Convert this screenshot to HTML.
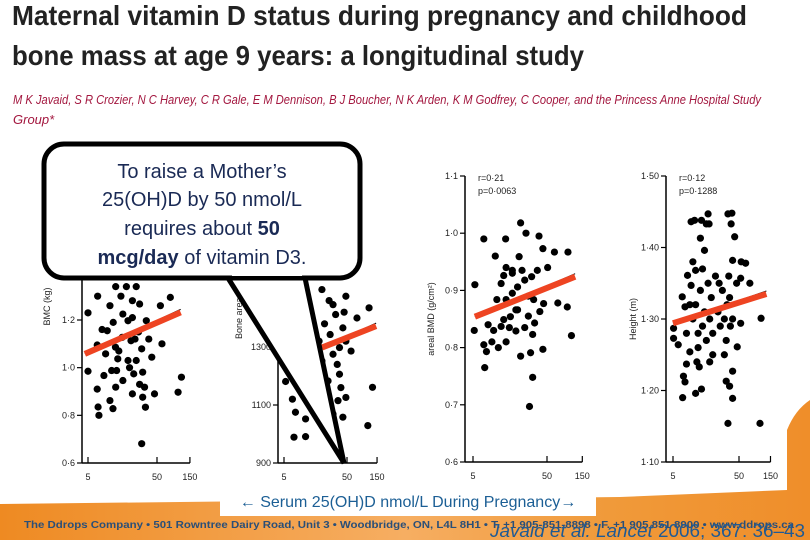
<!DOCTYPE html>
<html><head><meta charset="utf-8"><style>
html,body{margin:0;padding:0;background:#fff;width:810px;height:540px;overflow:hidden}
svg{display:block}
.t{font-family:"Liberation Sans Narrow","Liberation Sans",sans-serif}
.tick{font-family:"Liberation Sans",sans-serif;font-size:9px;fill:#222}
</style></head><body>
<svg id="s" width="810" height="540" viewBox="0 0 810 540" xmlns="http://www.w3.org/2000/svg">
<defs>
<linearGradient id="og" x1="0" x2="1" y1="0" y2="0">
<stop offset="0" stop-color="#ee8a22"/><stop offset="0.5" stop-color="#f6ae62"/><stop offset="0.75" stop-color="#f09a3a"/><stop offset="1" stop-color="#ef8e2a"/>
</linearGradient>
</defs>
<text class="t" x="12" y="25" font-size="28" font-weight="bold" fill="#222" textLength="735" lengthAdjust="spacingAndGlyphs">Maternal vitamin D status during pregnancy and childhood</text>
<text class="t" x="12" y="65" font-size="28" font-weight="bold" fill="#222" textLength="572" lengthAdjust="spacingAndGlyphs">bone mass at age 9 years: a longitudinal study</text>
<text class="t" x="13" y="104" font-size="13" font-style="italic" fill="#a3173f" textLength="748" lengthAdjust="spacingAndGlyphs">M K Javaid, S R Crozier, N C Harvey, C R Gale, E M Dennison, B J Boucher, N K Arden, K M Godfrey, C Cooper, and the Princess Anne Hospital Study</text>
<text class="t" x="13" y="124" font-size="13" font-style="italic" fill="#a3173f">Group*</text>
<g id="charts"></g>
<path d="M0 504 L620 497 L787 490 L787 430 Q795 410 810 400 L810 540 L0 540 Z" fill="url(#og)"/>
<rect x="220" y="486" width="376" height="30" fill="#fff"/>
<text x="408" y="507" text-anchor="middle" font-family="Liberation Sans,sans-serif" font-size="16" fill="#1c5f95">← Serum 25(OH)D nmol/L  During Pregnancy→</text>
<text x="24" y="528" font-family="Liberation Sans,sans-serif" font-size="10" font-weight="bold" fill="#2a4f78" textLength="770" lengthAdjust="spacingAndGlyphs">The Ddrops Company • 501 Rowntree Dairy Road, Unit 3 • Woodbridge, ON, L4L 8H1 • T. +1 905-851-8898 • F. +1 905 851 8900 • www.ddrops.ca</text>
<text x="490" y="537" font-family="Liberation Sans,sans-serif" font-size="18" fill="#1f5a94" textLength="315" lengthAdjust="spacingAndGlyphs"><tspan font-style="italic">Javaid et al. Lancet</tspan> 2006; 367: 36–43</text>
<g id="callout"></g>
</svg>
<script>
const p1Points=[[5,1.23],[5,0.985],[6.9,1.3],[6.8,1.095],[7,0.835],[7.2,0.8],[6.8,0.91],[8.5,0.967],[10.4,0.862],[11.5,0.828],[12.6,0.918],[13,0.988],[13.5,1.037],[15,1.3],[15.6,1.127],[11.6,1.19],[10.4,1.26],[19,1.197],[21,1.113],[22,1.281],[28,1.267],[35,1.197],[30,1.079],[25,1.03],[23,0.974],[31,0.981],[33,0.918],[31,0.876],[34,0.834],[46,0.89],[30,0.681],[56,1.26],[78,1.295],[59,1.1],[101,0.897],[113,0.96],[19,1.03],[12.5,1.086],[9,1.058],[11,0.988],[16,0.946],[22,0.89],[18,1.34],[12.6,1.34],[42,1.044],[9.5,1.155],[25,1.34],[22,1.21],[16,1.225],[27,1.15],[14,1.07],[20,1.0],[24,1.12],[8,1.16],[38,1.12],[28,0.93]];
const p1Fit=[[4.5,1.058],[110,1.232]];
const p1Ticks=[0.6,0.8,1.0,1.2];
const p1TickLabels=["0·6","0·8","1·0","1·2"];
const p2Points=[[5.3,1181],[6.8,1120],[7.2,989],[7.6,1075],[11,1052],[11,991],[13,1132],[20,1498],[30,1446],[33,1412],[48,1475],[43,1366],[48,1320],[58,1286],[72,1400],[112,1435],[127,1161],[107,1029],[38,1206],[30,1275],[27,1343],[36,1115],[43,1058],[25,1183],[20,1252],[48,1126],[18,1320],[30,1069],[38,1298],[22,1380],[35,1240],[45,1420],[26,1460],[40,1160]];
const p2Fit=[[20,1298],[145,1372]];
const p2Ticks=[900,1100,1300];
const p2TickLabels=["900","1100","1300"];
const p3Points=[[5.3,0.91],[7,0.99],[5.2,0.83],[7.2,0.765],[10,0.96],[13.8,0.99],[22,1.018],[26,1.0],[39,0.995],[44,0.973],[63,0.967],[96,0.967],[107,0.821],[94,0.871],[70,0.878],[44,0.797],[32,0.748],[29,0.697],[22,0.785],[30,0.791],[51,0.94],[7.6,0.793],[7,0.805],[9,0.81],[11,0.8],[14,0.81],[12,0.837],[16,0.854],[19,0.866],[14,0.884],[17,0.895],[20,0.906],[25,0.918],[31,0.924],[37,0.935],[23,0.935],[17,0.935],[13,0.926],[12,0.912],[10.5,0.884],[20,0.866],[28,0.855],[34,0.843],[40,0.863],[25,0.835],[19,0.829],[32,0.823],[15.5,0.835],[9.5,0.83],[8,0.84],[45,0.877],[13,0.849],[21,0.959],[14,0.94],[28,0.89],[33,0.884],[17,0.93]];
const p3Fit=[[5.3,0.854],[120,0.924]];
const p3Ticks=[0.6,0.7,0.8,0.9,1.0,1.1];
const p3TickLabels=["0·6","0·7","0·8","0·9","1·0","1·1"];
const p4Points=[[7,1.19],[5.1,1.287],[5.1,1.273],[6,1.264],[6.9,1.331],[7.6,1.317],[8.3,1.361],[9.4,1.347],[9.4,1.436],[10.6,1.438],[10,1.38],[11,1.368],[11,1.196],[13.5,1.438],[16,1.433],[17,1.447],[17.6,1.433],[13,1.413],[15,1.396],[34,1.447],[38,1.433],[39,1.448],[43,1.415],[40,1.382],[54,1.38],[63,1.378],[73,1.35],[108,1.301],[104,1.154],[34,1.154],[40,1.189],[36,1.206],[32,1.213],[40,1.227],[13.5,1.202],[12.5,1.233],[11.5,1.24],[9,1.254],[8,1.237],[7.2,1.22],[7.6,1.212],[47,1.261],[53,1.294],[53,1.357],[46,1.35],[10,1.3],[11,1.32],[12,1.28],[13,1.34],[14,1.29],[15,1.31],[16,1.27],[17,1.35],[18,1.3],[19,1.33],[20,1.28],[22,1.36],[24,1.31],[26,1.29],[28,1.34],[30,1.3],[32,1.27],[33,1.32],[35,1.36],[37,1.29],[8,1.28],[9,1.32],[12,1.26],[20,1.25],[30,1.25],[25,1.35],[36,1.33],[40,1.3],[14,1.37],[18,1.24]];
const p4Fit=[[5,1.294],[130,1.335]];
const p4Ticks=[1.1,1.2,1.3,1.4,1.5];
const p4TickLabels=["1·10","1·20","1·30","1·40","1·50"];
const xTicks=[5,50,150];
const xTickLabels=["5","50","150"];

const NS="http://www.w3.org/2000/svg";
function mk(tag,attrs,parent){const e=document.createElementNS(NS,tag);for(const k in attrs)e.setAttribute(k,attrs[k]);parent.appendChild(e);return e;}
const panels=[
 {pts:p1Points,fit:p1Fit,ticks:p1Ticks,labels:p1TickLabels,ax:82,x5:88,dec:69,y0:0.6,py0:463,y1:1.2,py1:320,top:150,label:"BMC (kg)",lx:50,name:"bmc"},
 {pts:p2Points,fit:p2Fit,ticks:p2Ticks,labels:p2TickLabels,ax:278,x5:284,dec:63,y0:900,py0:463,y1:1300,py1:347,top:150,label:"Bone area (cm²)",lx:242,name:"bone-area"},
 {pts:p3Points,fit:p3Fit,ticks:p3Ticks,labels:p3TickLabels,ax:465,x5:473,dec:74,y0:0.6,py0:462,y1:1.1,py1:176,top:176,label:"areal BMD (g/cm²)",lx:434,name:"areal-bmd",r:"r=0·21",p:"p=0·0063"},
 {pts:p4Points,fit:p4Fit,ticks:p4Ticks,labels:p4TickLabels,ax:666,x5:673,dec:66,y0:1.1,py0:462,y1:1.5,py1:176,top:176,label:"Height (m)",lx:636,name:"height",r:"r=0·12",p:"p=0·1288"}
];
const root=document.getElementById('charts');
panels.forEach(P=>{
 const xs=v=>P.x5+(Math.log10(v)-Math.log10(5))*P.dec;
 const ys=v=>P.py0+(v-P.y0)*(P.py1-P.py0)/(P.y1-P.y0);
 const g=mk('g',{},root);
 
 
 const ya=mk('line',{x1:P.ax,x2:P.ax,y1:P.top,y2:P.py0,stroke:'#000','stroke-width':1.5},g);
 
 
 const xe=xs(150);
 const xa=mk('line',{x1:P.ax,x2:xe,y1:P.py0,y2:P.py0,stroke:'#000','stroke-width':1.5},g);
 
 
 P.ticks.forEach((t,i)=>{
  const y=ys(t);
  mk('line',{x1:P.ax-5,x2:P.ax,y1:y,y2:y,stroke:'#000','stroke-width':1.2},g);
  const tl=mk('text',{x:P.ax-7,y:y+3,'text-anchor':'end',class:'tick'},g);
  tl.textContent=P.labels[i];
  
  
 });
 xTicks.forEach((t,i)=>{
  const x=xs(t);
  mk('line',{x1:x,x2:x,y1:P.py0,y2:P.py0-6,stroke:'#000','stroke-width':1.2},g);
  const tl=mk('text',{x:x,y:P.py0+17,'text-anchor':'middle',class:'tick'},g);
  tl.textContent=xTickLabels[i];
  
  
 });
 const yl=mk('text',{x:P.lx,y:(P.top+P.py0)/2,'text-anchor':'middle',class:'tick',transform:'rotate(-90 '+P.lx+' '+((P.top+P.py0)/2)+')'},g);
 yl.textContent=P.label;
 
 
 if(P.r){
  const r=mk('text',{x:P.ax+13,y:P.top+5,class:'tick'},g);r.textContent=P.r;
  
  
  const p=mk('text',{x:P.ax+13,y:P.top+18,class:'tick'},g);p.textContent=P.p;
  
  
 }
 P.pts.forEach(d=>{
  const c=mk('circle',{cx:xs(d[0]),cy:ys(d[1]),r:3.6,fill:'#000'},g);
  
  
 });
 const f=P.fit;
 mk('line',{x1:xs(f[0][0]),y1:ys(f[0][1]),x2:xs(f[1][0]),y2:ys(f[1][1])-3,stroke:'#000','stroke-width':1},g);
 const fl=mk('line',{x1:xs(f[0][0]),y1:ys(f[0][1]),x2:xs(f[1][0]),y2:ys(f[1][1]),stroke:'#ee4422','stroke-width':6},g);
 
 
});
const cg=document.getElementById('callout');


mk('path',{d:'M228 278 L344 463 L305 278 Z',fill:'#fff',stroke:'#000','stroke-width':5,'stroke-linejoin':'miter'},cg);
mk('rect',{x:44,y:144,width:316,height:134,rx:20,ry:20,fill:'#fff',stroke:'#000','stroke-width':5},cg);
mk('rect',{x:232,y:272,width:70,height:4,fill:'#fff'},cg);
function txt(y,html){const t=mk('text',{x:202,y:y,'text-anchor':'middle','font-family':'Liberation Sans,sans-serif','font-size':20,fill:'#1a2a55'},cg);t.innerHTML=html;}
txt(178,'To raise a Mother’s');
txt(206,'25(OH)D by 50 nmol/L');
txt(235,'requires about <tspan font-weight="bold">50</tspan>');
txt(264,'<tspan font-weight="bold">mcg/day</tspan> of vitamin D3.');
</script>
</body></html>
